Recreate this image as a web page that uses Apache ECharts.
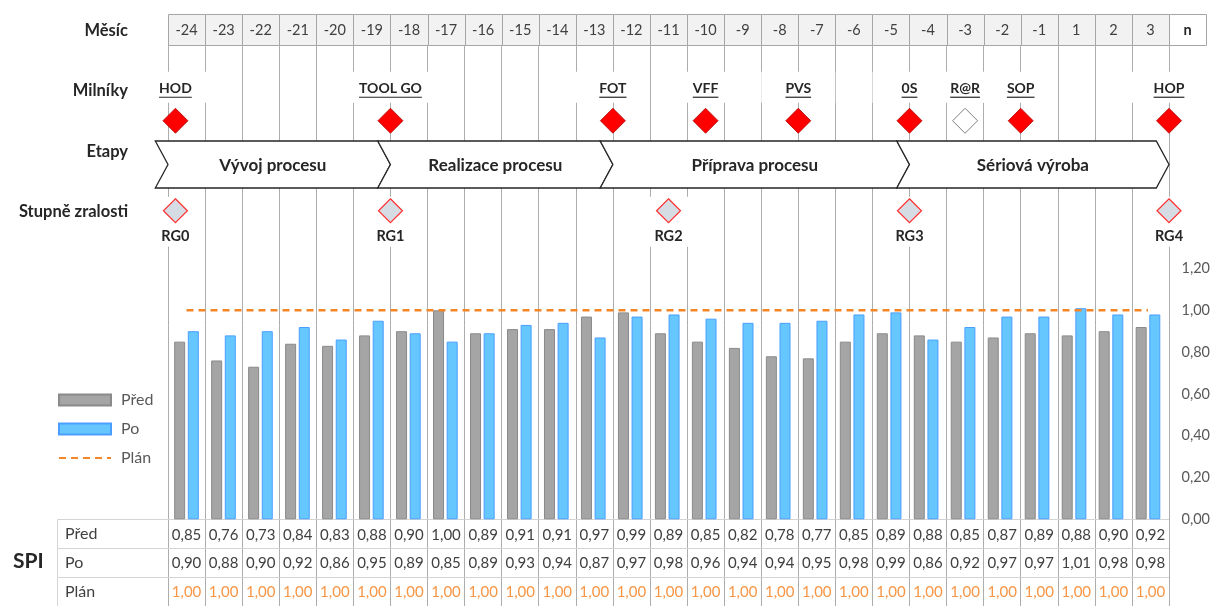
<!DOCTYPE html>
<html lang="cs">
<head>
  <meta charset="UTF-8">
  <title>SPI - Před / Po / Plán</title>
  <script src="https://cdn.jsdelivr.net/npm/echarts@6/dist/echarts.min.js"></script>
  <style>
    html, body { margin: 0; padding: 0; background: #fff; }
  </style>
</head>
<body>
  <div id="main" style="width: 1213px; height: 606px;"></div>

  <script>
    // Months on the x axis (header also has the extra "n" column)
    const months = ['-24', '-23', '-22', '-21', '-20', '-19', '-18', '-17', '-16', '-15', '-14', '-13', '-12',
      '-11', '-10', '-9', '-8', '-7', '-6', '-5', '-4', '-3', '-2', '-1', '1', '2', '3'];
    const headerMonths = months.concat(['n']);

    // SPI values
    const pred = [0.85, 0.76, 0.73, 0.84, 0.83, 0.88, 0.90, 1.00, 0.89, 0.91, 0.91, 0.97, 0.99, 0.89,
      0.85, 0.82, 0.78, 0.77, 0.85, 0.89, 0.88, 0.85, 0.87, 0.89, 0.88, 0.90, 0.92];
    const po = [0.90, 0.88, 0.90, 0.92, 0.86, 0.95, 0.89, 0.85, 0.89, 0.93, 0.94, 0.87, 0.97, 0.98,
      0.96, 0.94, 0.94, 0.95, 0.98, 0.99, 0.86, 0.92, 0.97, 0.97, 1.01, 0.98, 0.98];
    const plan = [1.00, 1.00, 1.00, 1.00, 1.00, 1.00, 1.00, 1.00, 1.00, 1.00, 1.00, 1.00, 1.00, 1.00,
      1.00, 1.00, 1.00, 1.00, 1.00, 1.00, 1.00, 1.00, 1.00, 1.00, 1.00, 1.00, 1.00];

    // Top rows
    const rowNames = ['Měsíc', 'Milníky', 'Etapy', 'Stupně zralosti'];

    // Milestones (position in month columns counted from the left edge of -24)
    const milestoneNames = ['HOD', 'TOOL GO', 'FOT', 'VFF', 'PVS', '0S', 'R@R', 'SOP', 'HOP'];
    const milestonePos = [0.2, 6, 12, 14.5, 17, 20, 21.5, 23, 27];
    const milestoneDone = [true, true, true, true, true, true, false, true, true];

    // Maturity gates
    const gateNames = ['RG0', 'RG1', 'RG2', 'RG3', 'RG4'];
    const gatePos = [0.2, 6, 13.5, 20, 27];

    // Stages
    const stageNames = ['Vývoj procesu', 'Realizace procesu', 'Příprava procesu', 'Sériová výroba'];
    const stageStart = [0, 6, 12, 20];
    const stageEnd = [6, 12, 20, 27];

    // Table under the chart
    const tableRows = ['Před', 'Po', 'Plán'];

    const FONT = 'Lato';
    const fmt = v => v.toFixed(2).replace('.', ',');

    const measureCtx = document.createElement('canvas').getContext('2d');
    function textWidth(str, font) {
      measureCtx.font = font;
      return measureCtx.measureText(str).width;
    }

    let myChart = echarts.init(document.getElementById('main'));

    const tableData = [];
    [pred, po, plan].forEach((arr, r) => {
      arr.forEach((v, c) => tableData.push([c, r]));
    });
    const tableText = [pred, po, plan].map(arr => arr.map(fmt));

    const options = {
      animation: false,
      title: {
        text: 'SPI',
        left: 13,
        top: 551,
        padding: 0,
        textStyle: { fontFamily: FONT, fontSize: 21, fontWeight: 'bold', color: '#262626' }
      },
      legend: {
        data: [
          { name: 'Před', icon: 'rect' },
          { name: 'Po', icon: 'rect' },
          { name: 'Plán', itemStyle: { opacity: 0 } }
        ],
        orient: 'vertical',
        left: 58,
        top: 392,
        padding: 0,
        itemWidth: 52,
        itemHeight: 11,
        itemGap: 13,
        textStyle: { fontFamily: FONT, fontSize: 16, color: '#595959', padding: [0, 0, 0, 5] }
      },
      grid: [
        { left: 168, right: 44, top: 45, bottom: 0 },        // vertical month lines
        { left: 168, right: 44, top: 0, height: 242 },       // milestones / stages
        { left: 168, right: 44, top: 268.5, bottom: 86.7 },  // bars
        { left: 168, right: 44, top: 519.3, height: 88.5 }   // table
      ],
      xAxis: [
        {
          gridIndex: 0, type: 'value', min: 0, max: 27, interval: 1,
          axisLine: { show: false }, axisTick: { show: false }, axisLabel: { show: false },
          splitLine: { show: true, lineStyle: { color: '#adadad', width: 1 } }
        },
        { gridIndex: 1, type: 'value', min: 0, max: 27, show: false },
        {
          gridIndex: 2, type: 'category', data: months,
          axisLine: { show: false }, axisTick: { show: false }, axisLabel: { show: false }
        },
        { gridIndex: 3, type: 'category', data: months, show: false }
      ],
      yAxis: [
        { gridIndex: 0, type: 'value', show: false },
        {
          gridIndex: 1, type: 'category', data: rowNames, inverse: true,
          axisLine: { show: false }, axisTick: { show: false },
          axisLabel: { margin: 40, fontFamily: FONT, fontSize: 16.5, fontWeight: 'bold', color: '#262626' }
        },
        {
          gridIndex: 2, type: 'value', position: 'right', min: 0, max: 1.2, interval: 0.2,
          axisLine: { show: false }, axisTick: { show: false }, splitLine: { show: false },
          axisLabel: { margin: 15, fontFamily: FONT, fontSize: 14.5, color: '#595959', formatter: v => fmt(v) }
        },
        {
          gridIndex: 3, type: 'category', data: tableRows, inverse: true,
          axisLine: { show: false }, axisTick: { show: false },
          axisLabel: { margin: 103, align: 'left', fontFamily: FONT, fontSize: 16, color: '#404040' }
        }
      ],
      series: [
        {
          name: 'Před', type: 'bar', xAxisIndex: 2, yAxisIndex: 2, data: pred,
          barWidth: 11, barGap: '24%',
          itemStyle: { color: '#a5a5a5', borderColor: '#8a8a8a', borderWidth: 1 }
        },
        {
          name: 'Po', type: 'bar', xAxisIndex: 2, yAxisIndex: 2, data: po,
          barWidth: 11,
          itemStyle: { color: '#66c7ff', borderColor: '#4a9eff', borderWidth: 1 }
        },
        {
          name: 'Plán', type: 'line', xAxisIndex: 2, yAxisIndex: 2, data: plan,
          symbol: 'none', z: 5,
          itemStyle: { color: '#f4862a' },
          lineStyle: { color: '#f4862a', width: 2.5, type: [7, 5] }
        },
        // month header cells
        {
          type: 'custom', xAxisIndex: 1, yAxisIndex: 1,
          data: headerMonths.map((m, i) => [i, 0]),
          renderItem: (params, api) => {
            const col = api.value(0);
            const p0 = api.coord([col, 0]);
            const p1 = api.coord([col + 1, 0]);
            const label = headerMonths[params.dataIndex];
            const isN = label === 'n';
            return {
              type: 'group',
              children: [
                {
                  type: 'rect',
                  shape: { x: Math.round(p0[0]) + 0.5, y: 14.5, width: Math.round(p1[0]) - Math.round(p0[0]), height: 31 },
                  style: { fill: isN ? '#ffffff' : '#f2f2f2', stroke: '#a6a6a6', lineWidth: 1 }
                },
                {
                  type: 'text',
                  style: {
                    text: label, x: (p0[0] + p1[0]) / 2, y: p0[1], align: 'center', verticalAlign: 'middle',
                    fontFamily: FONT, fontSize: 14.5, fontWeight: isN ? 'bold' : 'normal', fill: isN ? '#262626' : '#404040'
                  }
                }
              ]
            };
          }
        },
        // stages (chevrons)
        {
          type: 'custom', xAxisIndex: 1, yAxisIndex: 1,
          data: stageNames.map((s, i) => [stageStart[i], 2, stageEnd[i]]),
          renderItem: (params, api) => {
            const p0 = api.coord([api.value(0), 2]);
            const p1 = api.coord([api.value(2), 2]);
            const L = p0[0], R = p1[0];
            const cy = p0[1] + 13.25, h = 23.5, d = 12.7;
            return {
              type: 'group',
              children: [
                {
                  type: 'polygon',
                  shape: { points: [[L - d, cy - h], [R - d, cy - h], [R, cy], [R - d, cy + h], [L - d, cy + h], [L, cy]] },
                  style: { fill: '#ffffff', stroke: '#262626', lineWidth: 1.3 }
                },
                {
                  type: 'text',
                  style: {
                    text: stageNames[params.dataIndex], x: (L + R) / 2 - d / 2, y: cy + 1.5,
                    align: 'center', verticalAlign: 'middle',
                    fontFamily: FONT, fontSize: 17, fontWeight: 'bold', fill: '#262626'
                  }
                }
              ]
            };
          }
        },
        // milestones
        {
          type: 'custom', xAxisIndex: 1, yAxisIndex: 1,
          data: milestonePos.map(p => [p, 1]),
          renderItem: (params, api) => {
            const i = params.dataIndex;
            const p = api.coord([api.value(0), 1]);
            const cx = p[0], cy = p[1];
            const name = milestoneNames[i];
            const font = 'bold 14px ' + FONT;
            const tw = textWidth(name, font);
            const bw = Math.max(tw + 20, 74);
            const dy = cy + 30, s = 12.5;
            const done = milestoneDone[i];
            return {
              type: 'group',
              children: [
                { type: 'rect', shape: { x: cx - bw / 2, y: cy - 19, width: bw, height: 31 }, style: { fill: '#ffffff' } },
                {
                  type: 'text',
                  style: {
                    text: name, x: cx, y: cy - 2.5, align: 'center', verticalAlign: 'middle',
                    fontFamily: FONT, fontSize: 14, fontWeight: 'bold', fill: '#262626'
                  }
                },
                {
                  type: 'line',
                  shape: { x1: cx - tw / 2, y1: cy + 6.5, x2: cx + tw / 2, y2: cy + 6.5 },
                  style: { stroke: '#262626', lineWidth: 1.2 }
                },
                {
                  type: 'polygon',
                  shape: { points: [[cx, dy - s], [cx + s, dy], [cx, dy + s], [cx - s, dy]] },
                  style: done ? { fill: '#ff0000', stroke: '#b00000', lineWidth: 0.8 }
                              : { fill: '#ffffff', stroke: '#7f7f7f', lineWidth: 1 }
                }
              ]
            };
          }
        },
        // maturity gates
        {
          type: 'custom', xAxisIndex: 1, yAxisIndex: 1,
          data: gatePos.map(p => [p, 3]),
          renderItem: (params, api) => {
            const p = api.coord([api.value(0), 3]);
            const cx = p[0], cy = p[1] - 1, s = 12;
            return {
              type: 'group',
              children: [
                { type: 'rect', shape: { x: cx - 20, y: cy - 14, width: 40, height: 50 }, style: { fill: '#ffffff' } },
                {
                  type: 'polygon',
                  shape: { points: [[cx, cy - s], [cx + s, cy], [cx, cy + s], [cx - s, cy]] },
                  style: { fill: '#d6dce4', stroke: '#ff3030', lineWidth: 1.2 }
                },
                {
                  type: 'text',
                  style: {
                    text: gateNames[params.dataIndex], x: cx, y: cy + 26, align: 'center', verticalAlign: 'middle',
                    fontFamily: FONT, fontSize: 14.5, fontWeight: 'bold', fill: '#262626'
                  }
                }
              ]
            };
          }
        },
        // table values
        {
          type: 'custom', xAxisIndex: 3, yAxisIndex: 3,
          data: tableData,
          renderItem: (params, api) => {
            const c = api.value(0), r = api.value(1);
            const p = api.coord([c, r]);
            const sz = api.size([1, 1]);
            const top = Math.round(p[1] - sz[1] / 2) + 0.5;
            return {
              type: 'group',
              children: [
                {
                  type: 'line',
                  shape: { x1: p[0] - sz[0] / 2, y1: top, x2: p[0] + sz[0] / 2, y2: top },
                  style: { stroke: '#d4d4d4', lineWidth: 1 }
                },
                {
                  type: 'text',
                  style: {
                    text: tableText[r][c], x: p[0], y: p[1] + 1, align: 'center', verticalAlign: 'middle',
                    fontFamily: FONT, fontSize: 15, fill: r === 2 ? '#f79646' : '#404040'
                  }
                }
              ]
            };
          }
        },
        // table row label cells
        {
          type: 'custom', xAxisIndex: 3, yAxisIndex: 3,
          data: tableRows.map((t, r) => [0, r]),
          renderItem: (params, api) => {
            const p = api.coord([0, api.value(1)]);
            const sz = api.size([1, 1]);
            const right = p[0] - sz[0] / 2;
            const left = Math.round(right - 111) + 0.5;
            const top = Math.round(p[1] - sz[1] / 2) + 0.5;
            return {
              type: 'group',
              children: [
                { type: 'line', shape: { x1: left, y1: top, x2: right, y2: top }, style: { stroke: '#d4d4d4', lineWidth: 1 } },
                { type: 'line', shape: { x1: left, y1: top, x2: left, y2: top + sz[1] }, style: { stroke: '#d4d4d4', lineWidth: 1 } }
              ]
            };
          }
        }
      ]
    };

    myChart.setOption(options);
  </script>
</body>
</html>
